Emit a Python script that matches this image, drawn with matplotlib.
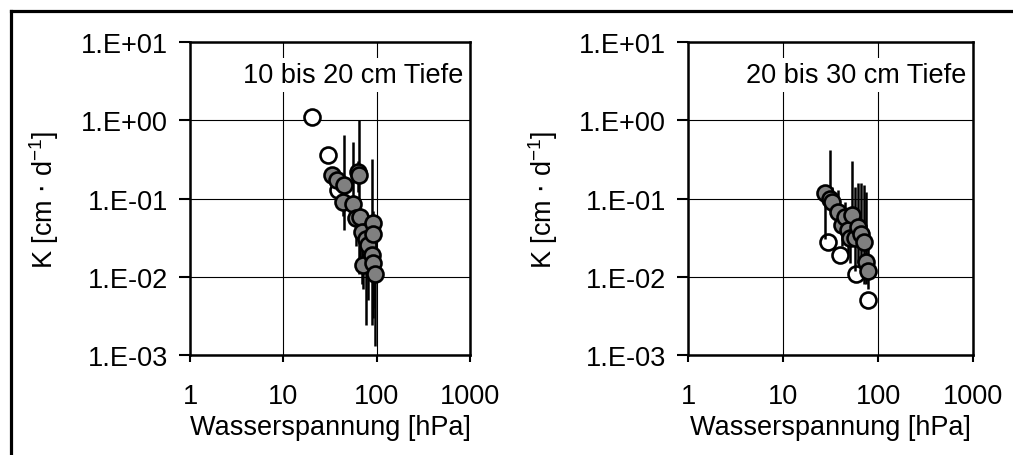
# K(h) Messwerte, zwei Tiefenstufen

import matplotlib
matplotlib.use('Agg')
import matplotlib.pyplot as plt
import numpy as np
from matplotlib.lines import Line2D

plt.rcParams['font.family'] = ['Liberation Sans', 'DejaVu Sans']

# 10 bis 20 cm: offene Kreise (ohne Fehlerbalken)
h_open_1 = [20.3, 30.0, 38.6]
k_open_1 = [1.1, 0.365, 0.13]

# 10 bis 20 cm: graue Kreise mit Fehlerbalken (untere / obere Grenze)
h_1 = [33.0, 37.9, 44.7, 43.9, 55.4, 63.6, 65.2, 60.1, 66.3, 69.2, 71.9, 77.0, 81.3, 88.5, 90.7, 92.4, 90.7, 96.0]
k_1 = [0.198, 0.171, 0.148, 0.091, 0.084, 0.219, 0.198, 0.0556, 0.0584, 0.0376, 0.0141, 0.030, 0.0253, 0.0189, 0.048, 0.0357, 0.0148, 0.0107]
k_lo_1 = [0.16, 0.13, 0.04, 0.06, 0.05, 0.12, 0.011, 0.025, 0.015, 0.008, 0.007, 0.0024, 0.005, 0.0024, 0.005, 0.003, 0.004, 0.0013]
k_hi_1 = [0.25, 0.22, 0.64, 0.12, 0.53, 0.30, 1.0, 0.08, 0.09, 0.06, 0.02, 0.05, 0.04, 0.32, 0.07, 0.05, 0.02, 0.015]

# 20 bis 30 cm
h_open_2 = [29.8, 39.5, 58.0, 78.0]
k_open_2 = [0.028, 0.019, 0.011, 0.005]

h_2 = [27.5, 31.0, 32.3, 37.9, 41.2, 44.6, 48.3, 50.4, 52.5, 56.9, 61.5, 65.0, 70.0, 74.0, 77.0]
k_2 = [0.117, 0.10, 0.0915, 0.068, 0.0459, 0.0587, 0.0396, 0.0309, 0.0617, 0.0309, 0.0436, 0.035, 0.028, 0.0155, 0.012]
k_lo_2 = [0.03, 0.07, 0.06, 0.04, 0.025, 0.03, 0.02, 0.015, 0.03, 0.012, 0.015, 0.012, 0.008, 0.008, 0.007]
k_hi_2 = [0.15, 0.42, 0.14, 0.13, 0.08, 0.09, 0.07, 0.05, 0.30, 0.14, 0.16, 0.16, 0.15, 0.12, 0.04]

x_ticks = [1, 10, 100, 1000]
y_ticks = [1e-3, 1e-2, 1e-1, 1e0, 1e1]
y_labels = ['1.E-03', '1.E-02', '1.E-01', '1.E+00', '1.E+01']

panels = [
    ([0.1876, 0.2193, 0.2764, 0.6864], '10 bis 20 cm Tiefe', h_open_1, k_open_1, h_1, k_1, k_lo_1, k_hi_1),
    ([0.6795, 0.2193, 0.2813, 0.6864], '20 bis 30 cm Tiefe', h_open_2, k_open_2, h_2, k_2, k_lo_2, k_hi_2),
]

fs = 19.5

fig = plt.figure(figsize=(10.13, 4.56), dpi=100)

for rect, title, ho, ko, h, k, klo, khi in panels:
    ax = fig.add_axes(rect)
    ax.set_xscale('log')
    ax.set_yscale('log')
    ax.set_xlim(1, 1000)
    ax.set_ylim(1e-3, 1e1)

    ax.plot(ho, ko, 'o', ms=11.5, mfc='white', mec='black', mew=1.9, zorder=3)

    k = np.array(k)
    yerr = [k - np.array(klo), np.array(khi) - k]
    ax.errorbar(h, k, yerr=yerr, fmt='o', ms=11.5, mfc='#808080', mec='black', mew=1.9,
                ecolor='black', elinewidth=1.8, capsize=0, zorder=4)

    ax.grid(True, which='major', color='black', lw=0.8)
    ax.set_axisbelow(True)
    ax.minorticks_off()
    ax.set_xticks(x_ticks)
    ax.set_xticklabels(['1', '10', '100', '1000'])
    ax.set_yticks(y_ticks)
    ax.set_yticklabels(y_labels)
    ax.tick_params(axis='x', direction='out', length=5, width=1.5, pad=15, labelsize=fs)
    ax.tick_params(axis='y', direction='out', length=8, width=1.5, pad=8, labelsize=fs)
    for s in ax.spines.values():
        s.set_linewidth(1.8)

    ax.set_xlabel('Wasserspannung [hPa]', fontsize=fs, labelpad=4)
    ax.set_ylabel(r'K [cm $\cdot$ d$^{\mathregular{-1}}$]', fontsize=fs, labelpad=14)

    ax.text(0.975, 0.895, title, transform=ax.transAxes, ha='right', va='center', fontsize=fs,
            bbox=dict(facecolor='white', edgecolor='none', pad=3), zorder=5)

# Rahmen (nur oben und links sichtbar)
fig.add_artist(Line2D([10.5 / 1013, 10.5 / 1013], [-0.05, 1 - 11.5 / 456], color='black', lw=2.3,
                      solid_capstyle='projecting'))
fig.add_artist(Line2D([10.5 / 1013, 1.05], [1 - 11.5 / 456, 1 - 11.5 / 456], color='black', lw=2.3,
                      solid_capstyle='projecting'))

fig.savefig('out.png', dpi=100)
